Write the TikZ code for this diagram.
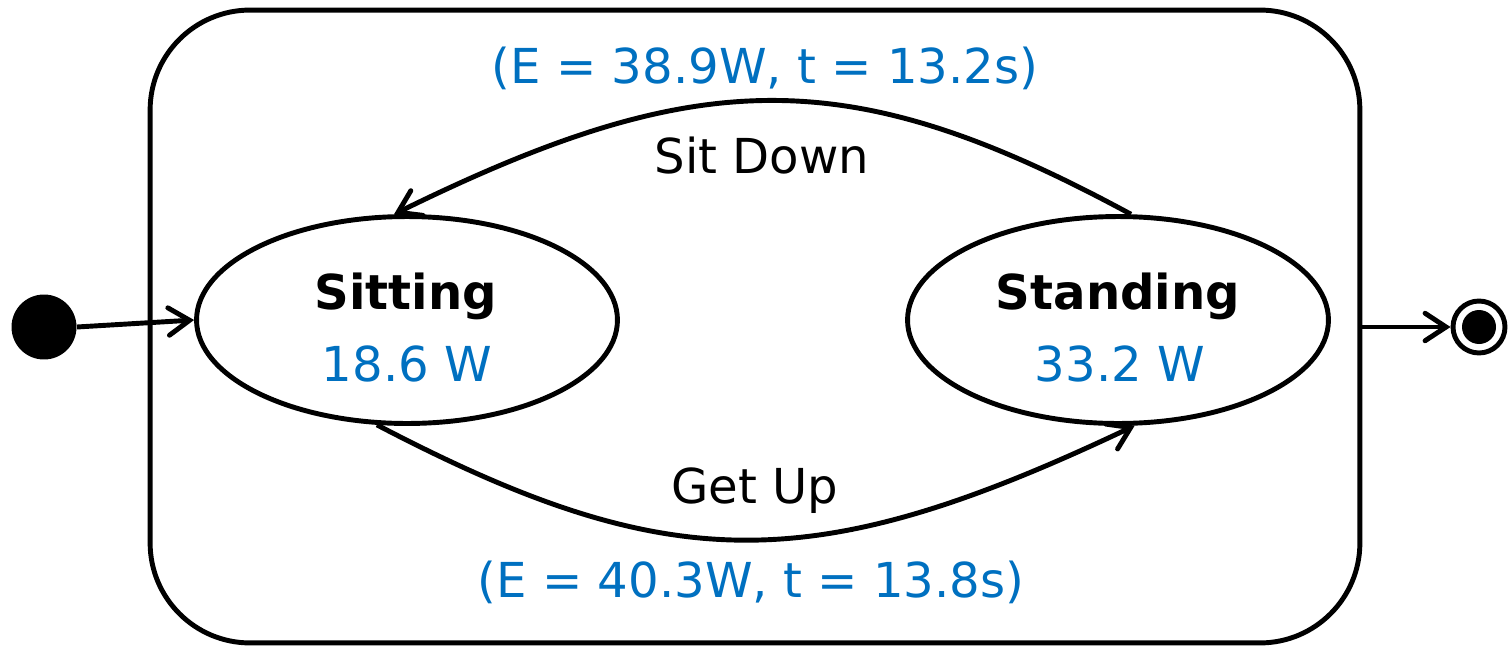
\documentclass[tikz,border=0pt]{standalone}
\usepackage{fontspec}
\setmainfont{DejaVu Sans}
\usetikzlibrary{arrows.meta,shapes.geometric}
\definecolor{lblue}{RGB}{0,112,192}
\begin{document}
\begin{tikzpicture}[x=0.02cm,y=-0.02cm,
  lw/.style={line width=2.8pt},
  statebox/.style={lw,draw,ellipse,minimum width=8.42cm,minimum height=4.14cm,inner sep=0pt},
  arr/.style={lw,-{Straight Barb[length=0.42cm,width=0.55cm,line cap=round]}},
  txt/.style={font=\fontsize{27.4}{32}\selectfont,anchor=base,inner sep=0pt},
  bluetxt/.style={txt,text=lblue}]
\useasboundingbox (0,0) rectangle (1508,646);
\node[draw,lw,rounded corners=2cm,minimum width=24.2cm,minimum height=12.66cm,inner sep=0pt] (frame) at (755,326.5) {};
\node[statebox] (sit) at (407,320) {};
\node[statebox] (stand) at (1118,320) {};
\node[circle,fill,minimum size=1.3cm,inner sep=0pt] (init) at (44,327) {};
\node[circle,draw,lw,minimum size=1.04cm,inner sep=0pt] (final) at (1479,327) {};
\node[circle,fill,minimum size=0.68cm,inner sep=0pt] (finaldot) at (final) {};
\draw[arr] (init.east) -- (sit.west);
\draw[arr] (frame.east |- final) -- (final.west);
\draw[arr] (stand.83) .. controls (850,62) and (700,64) .. (sit.97);
\draw[arr] (sit.254) .. controls (670,578) and (813,578) .. (stand.279);
\node[txt] (sitname) at (406,309) {\bfseries Sitting};
\node[bluetxt] (sitpow) at (407,381) {18.6 W};
\node[txt] (standname) at (1118,309) {\bfseries Standing};
\node[bluetxt] (standpow) at (1120,381) {33.2 W};
\node[txt] (sitdown) at (762,173) {Sit Down};
\node[bluetxt] (sdval) at (765,83) {(E = 38.9W, t = 13.2s)};
\node[txt] (getup) at (755,503) {Get Up};
\node[bluetxt] (guval) at (751,597) {(E = 40.3W, t = 13.8s)};
\end{tikzpicture}
\end{document}
